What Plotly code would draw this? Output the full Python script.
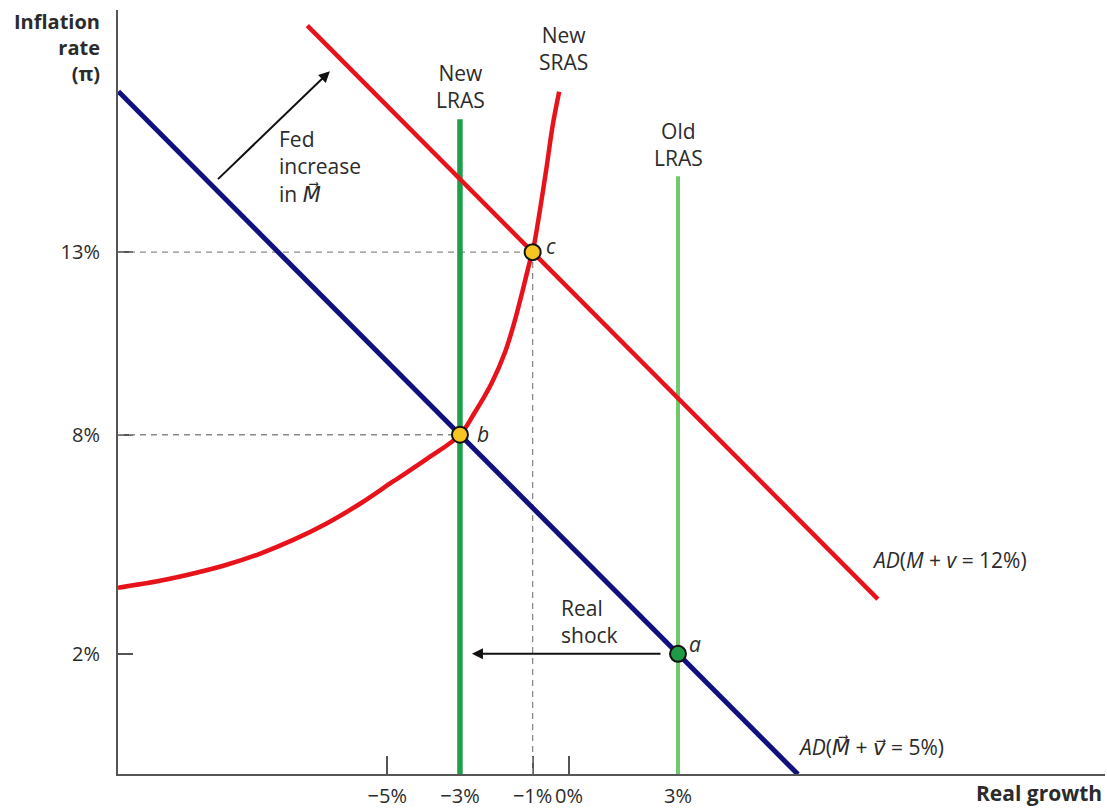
import plotly.graph_objects as go

# ---------------- data ----------------
growth_ticks = [-5, -3, -1, 0, 3]
growth_tick_labels = ["−5%", "−3%", "−1%", "0%", "3%"]
inflation_ticks = [2, 8, 13]
inflation_tick_labels = ["2%", "8%", "13%"]

x_range = [-12.41, 14.75]
y_range = [-1.29, 19.63]

# AD curves (inflation vs real growth)
ad_old_growth = [-12.4, 6.3]
ad_old_inflation = [17.4, -1.3]
ad_new_growth = [-7.2, 8.5]
ad_new_inflation = [19.2, 3.5]

# New SRAS curve
sras_growth = [-12.41, -11.26, -10.34, -9.42, -8.51, -7.59, -6.67, -5.75, -4.84, -3.92,
               -3.0, -2.61, -2.13, -1.76, -1.50, -1.28, -1.07, -1.0, -0.65, -0.45, -0.27]
sras_inflation = [3.81, 4.00, 4.20, 4.44, 4.74, 5.12, 5.57, 6.11, 6.72, 7.33,
                  8.0, 8.58, 9.41, 10.26, 11.09, 11.93, 12.77, 13.0, 15.1, 16.46, 17.39]

# LRAS lines
new_lras_growth = [-3, -3]
new_lras_inflation = [-1.3, 16.64]
old_lras_growth = [3, 3]
old_lras_inflation = [-1.3, 15.08]

# equilibrium points
point_labels = ["a", "b", "c"]
point_growth = [3, -3, -1]
point_inflation = [2, 8, 13]
point_colors = ["#1f9a47", "#f6c523", "#f6c523"]

# ---------------- layout helpers ----------------
W, H = 1107, 811
ML, MR, MT, MB = 118, 2, 10, 33
PW, PH = W - ML - MR, H - MT - MB


def px(x):
    return (x - ML) / PW


def py(y):
    return (H - MB - y) / PH


FONT = "'Open Sans', Lato, sans-serif"
TXT = "#2b2b2b"
ARROW_M = "<span style=\"font-family:DejaVu Sans\">M\u20d7</span>"
ARROW_V = "<span style=\"font-family:DejaVu Sans\">v\u20d7</span>"

fig = go.Figure()

dash = dict(color="#8a8a8a", width=1.3, dash="6px,5px")
# dashed guide lines
fig.add_trace(go.Scatter(x=[x_range[0], point_growth[1]], y=[point_inflation[1]] * 2, mode="lines",
                         line=dash, hoverinfo="skip"))
fig.add_trace(go.Scatter(x=[x_range[0], point_growth[2]], y=[point_inflation[2]] * 2, mode="lines",
                         line=dash, hoverinfo="skip"))
fig.add_trace(go.Scatter(x=[point_growth[2]] * 2, y=[y_range[0], point_inflation[2]], mode="lines",
                         line=dash, hoverinfo="skip"))

# LRAS
fig.add_trace(go.Scatter(x=old_lras_growth, y=old_lras_inflation, mode="lines",
                         line=dict(color="#72c96c", width=4), hoverinfo="skip"))
fig.add_trace(go.Scatter(x=new_lras_growth, y=new_lras_inflation, mode="lines",
                         line=dict(color="#1f9e4c", width=5.5), hoverinfo="skip"))

# AD curves
fig.add_trace(go.Scatter(x=ad_old_growth, y=ad_old_inflation, mode="lines",
                         line=dict(color="#10107f", width=5), hoverinfo="skip"))
fig.add_trace(go.Scatter(x=ad_new_growth, y=ad_new_inflation, mode="lines",
                         line=dict(color="#e8121b", width=4.5), hoverinfo="skip"))

# SRAS
fig.add_trace(go.Scatter(x=sras_growth, y=sras_inflation, mode="lines",
                         line=dict(color="#e8121b", width=4.5, shape="spline", smoothing=1.0),
                         hoverinfo="skip"))

# points
fig.add_trace(go.Scatter(x=point_growth, y=point_inflation, mode="markers",
                         marker=dict(size=16, color=point_colors, line=dict(color="#111", width=2)),
                         hoverinfo="skip"))

annotations = []
# point labels
shifts = {"a": (17, 10), "b": (23, 1), "c": (18, 6)}
for lab, gx, iy in zip(point_labels, point_growth, point_inflation):
    sx, sy = shifts[lab]
    annotations.append(dict(x=gx, y=iy, xref="x", yref="y", text=f"<i>{lab}</i>", showarrow=False,
                            xshift=sx, yshift=sy, font=dict(size=21, color=TXT, family=FONT)))

# arrows
annotations.append(dict(x=-6.58, y=17.95, ax=-9.70, ay=14.96, xref="x", yref="y", axref="x", ayref="y",
                        text="", showarrow=True, arrowhead=2, arrowsize=1.1, arrowwidth=2,
                        arrowcolor="#111", standoff=0))
annotations.append(dict(x=-2.67, y=2, ax=2.56, ay=2, xref="x", yref="y", axref="x", ayref="y",
                        text="", showarrow=True, arrowhead=2, arrowsize=1.1, arrowwidth=2,
                        arrowcolor="#111", standoff=0))


def label(text, x, y, xanchor="center", yanchor="middle", align="center", size=21):
    annotations.append(dict(x=px(x), y=py(y), xref="paper", yref="paper", text=text, showarrow=False,
                            xanchor=xanchor, yanchor=yanchor, align=align,
                            font=dict(size=size, color=TXT, family=FONT)))


label("<b>Inflation<br>rate<br>(π)</b>", 102, 6, xanchor="right", yanchor="top", align="right", size=20)
label("<b>Real growth</b>", 1104, 797, xanchor="right", size=21)
label("New<br>LRAS", 460, 87)
label("New<br>SRAS", 563, 49)
label("Old<br>LRAS", 678, 145)
label("Fed<br>increase<br>in <i>" + ARROW_M + "</i>", 277, 167, xanchor="left", align="left")
label("Real<br>shock", 559, 625, xanchor="left", align="left")
label("<i>AD</i>(<i>M</i> + <i>v</i> = 12%)", 870, 563, xanchor="left")
label("<i>AD</i>(<i>" + ARROW_M + "</i> + <i>" + ARROW_V + "</i> = 5%)", 796, 751, xanchor="left")

fig.update_layout(
    width=W, height=H, autosize=False,
    margin=dict(l=ML, r=MR, t=MT, b=MB, pad=0),
    paper_bgcolor="white", plot_bgcolor="white",
    showlegend=False,
    font=dict(family=FONT, color=TXT, size=18),
    annotations=annotations,
    xaxis=dict(range=x_range, tickvals=growth_ticks, ticktext=growth_tick_labels,
               showgrid=False, zeroline=False, showline=True, linecolor="#555", linewidth=2,
               ticks="inside", ticklen=18, tickcolor="#555", tickwidth=1.5, layer="below traces",
               tickfont=dict(size=20, color=TXT, family=FONT), ticklabelstandoff=3),
    yaxis=dict(range=y_range, tickvals=inflation_ticks, ticktext=inflation_tick_labels,
               showgrid=False, zeroline=False, showline=True, linecolor="#555", linewidth=2,
               ticks="inside", ticklen=15, tickcolor="#555", tickwidth=1.5, layer="below traces",
               tickfont=dict(size=20, color=TXT, family=FONT), ticklabelstandoff=12),
)

fig.write_html("out.html", config={"displayModeBar": False},
               post_script="document.body.style.margin='0';")
